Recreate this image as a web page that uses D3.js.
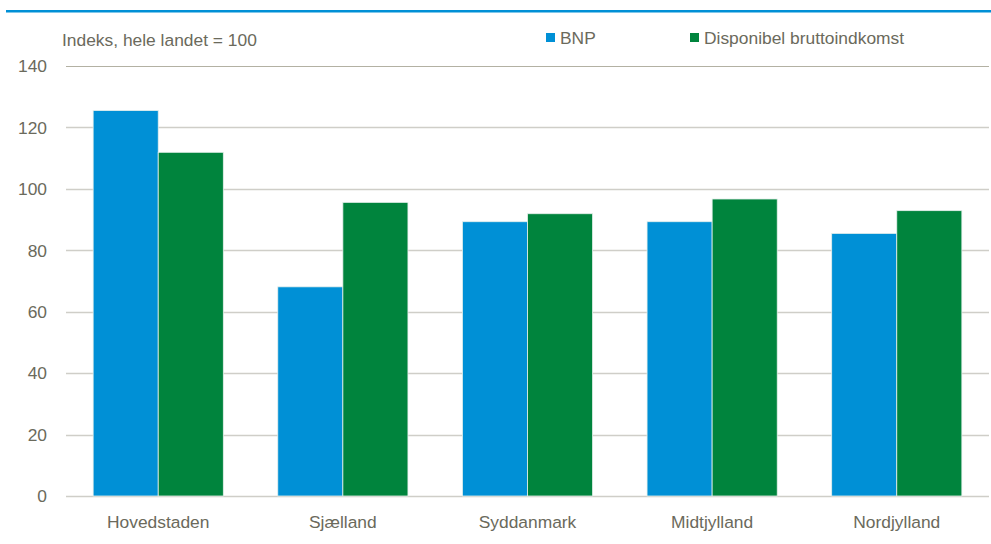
<!DOCTYPE html>
<html>
<head>
<meta charset="utf-8">
<script src="https://cdn.jsdelivr.net/npm/d3@7"></script>
<style>
  body { margin: 0; background: #fff; }
  text { font-family: "Liberation Sans", Arial, sans-serif; fill: #6b6a5c; }
</style>
</head>
<body>
<div id="chart"></div>
<script>
var regions = ["Hovedstaden", "Sjælland", "Syddanmark", "Midtjylland", "Nordjylland"];
var seriesNames = ["BNP", "Disponibel bruttoindkomst"];
var bnp = [125.5, 68.1, 89.3, 89.3, 85.5];
var disponibel = [111.9, 95.6, 91.9, 96.7, 92.9];
var yTicks = [0, 20, 40, 60, 80, 100, 120, 140];

var width = 991, height = 544;
var margin = { top: 66, right: 2, bottom: 48, left: 66 };
var fontSize = "17.4px";

var svg = d3.select("#chart").append("svg")
    .attr("width", width)
    .attr("height", height);

// blue rule at the top
svg.append("rect")
    .attr("x", 6).attr("y", 10)
    .attr("width", width - 6).attr("height", 2.5)
    .attr("fill", "#0090d6");

var x = d3.scaleBand()
    .domain(regions)
    .range([margin.left, width - margin.right])
    .paddingInner(0.295)
    .paddingOuter(0.147);

var xSub = d3.scaleBand()
    .domain(seriesNames)
    .range([0, x.bandwidth()]);

var y = d3.scaleLinear()
    .domain([0, 140])
    .range([height - margin.bottom, margin.top]);

var colors = d3.scaleOrdinal()
    .domain(seriesNames)
    .range(["#0090d6", "#00843d"]);

// gridlines
svg.append("g")
    .selectAll("line")
    .data(yTicks)
    .enter().append("line")
    .attr("x1", margin.left)
    .attr("x2", width - margin.right)
    .attr("y1", function(d) { return Math.round(y(d)) + 0.5; })
    .attr("y2", function(d) { return Math.round(y(d)) + 0.5; })
    .attr("stroke", function(d) { return d === 140 ? "#b3b1a3" : "#cfcec8"; })
    .attr("stroke-width", function(d) { return d === 140 ? 1 : 1.5; });

// y tick labels
svg.append("g")
    .selectAll("text")
    .data(yTicks)
    .enter().append("text")
    .attr("x", 47)
    .attr("y", function(d) { return y(d); })
    .attr("dy", "0.36em")
    .attr("text-anchor", "end")
    .style("font-size", fontSize)
    .text(function(d) { return d; });

// bars
var rows = regions.map(function(r, i) {
    return { region: r, values: [
        { name: seriesNames[0], value: bnp[i] },
        { name: seriesNames[1], value: disponibel[i] }
    ] };
});

svg.append("g")
    .selectAll("g")
    .data(rows)
    .enter().append("g")
    .attr("transform", function(d) { return "translate(" + x(d.region) + ",0)"; })
    .selectAll("rect")
    .data(function(d) { return d.values; })
    .enter().append("rect")
    .attr("x", function(d) { return xSub(d.name); })
    .attr("y", function(d) { return y(d.value); })
    .attr("width", xSub.bandwidth())
    .attr("height", function(d) { return y(0) - y(d.value); })
    .attr("fill", function(d) { return colors(d.name); })
    .attr("stroke", "#e6f0ec")
    .attr("stroke-width", 0.8);

// x labels
svg.append("g")
    .selectAll("text")
    .data(regions)
    .enter().append("text")
    .attr("x", function(d) { return x(d) + x.bandwidth() / 2; })
    .attr("y", 528)
    .attr("text-anchor", "middle")
    .style("font-size", fontSize)
    .text(function(d) { return d; });

// axis title
svg.append("text")
    .attr("x", 62)
    .attr("y", 46)
    .style("font-size", fontSize)
    .text("Indeks, hele landet = 100");

// legend
var legendX = [546, 690];
var legend = svg.append("g")
    .selectAll("g")
    .data(seriesNames)
    .enter().append("g")
    .attr("transform", function(d, i) { return "translate(" + legendX[i] + ",0)"; });

legend.append("rect")
    .attr("x", 0).attr("y", 33)
    .attr("width", 9).attr("height", 9)
    .attr("fill", function(d) { return colors(d); });

legend.append("text")
    .attr("x", 14)
    .attr("y", 44)
    .style("font-size", fontSize)
    .text(function(d) { return d; });
</script>
</body>
</html>
